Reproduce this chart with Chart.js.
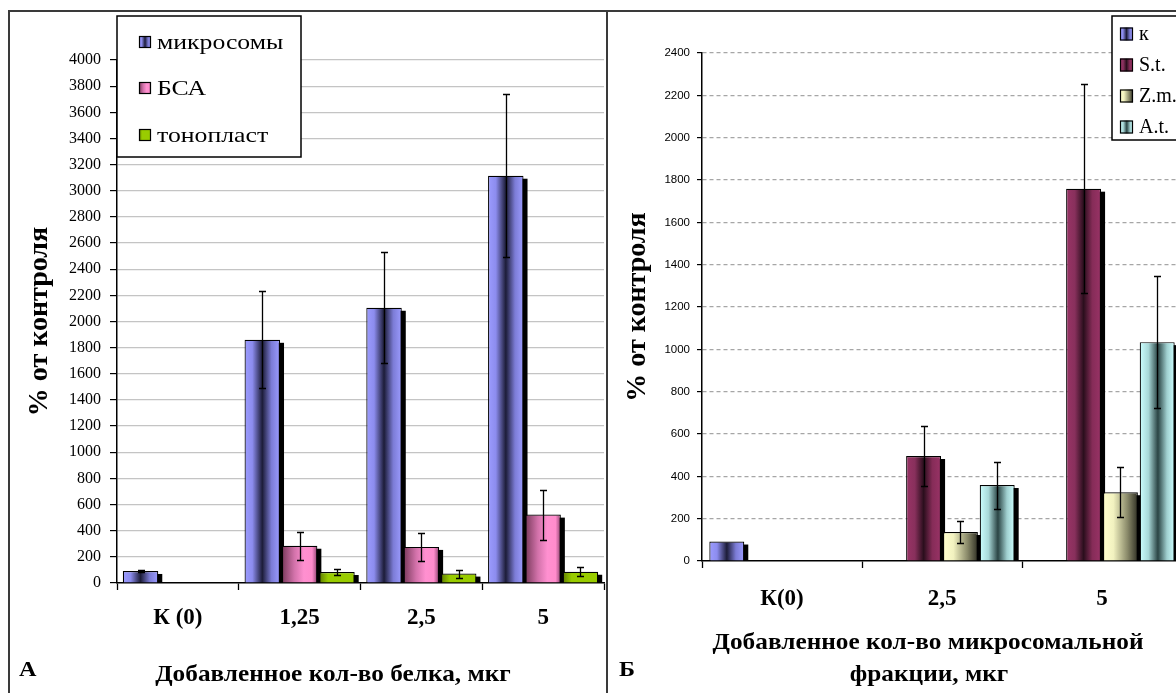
<!DOCTYPE html>
<html><head><meta charset="utf-8">
<script src="https://cdn.jsdelivr.net/npm/chart.js@4/dist/chart.umd.min.js"></script>
<style>
html,body{margin:0;padding:0;background:#fff;width:1176px;height:693px;overflow:hidden;}
#frame{position:absolute;left:8px;top:10px;width:1300px;height:800px;border-left:2px solid #3a3a3a;border-top:2px solid #3a3a3a;}
#sep{position:absolute;left:606px;top:10px;width:2px;height:700px;background:#3a3a3a;}
#ca{position:absolute;left:0;top:0;}
#cb{position:absolute;left:608px;top:0;}
</style></head><body>
<div id="frame"></div><div id="sep"></div>
<canvas id="ca" width="606" height="693"></canvas>
<canvas id="cb" width="650" height="693"></canvas>
<script>
// ---------- data: panel A ----------
const categoriesA = ['К (0)', '1,25', '2,5', '5'];
const seriesA = ['микросомы', 'БСА', 'тонопласт'];
const microsomes = [92, 1860, 2105, 3115];
const microsomesErr = [8, 370, 425, 625];
const bsa = [null, 285, 276, 523];
const bsaErr = [null, 107, 107, 192];
const tonoplast = [null, 84, 72, 86];
const tonoplastErr = [null, 25, 30, 34];
const yTicksA = [0, 200, 400, 600, 800, 1000, 1200, 1400, 1600, 1800, 2000, 2200, 2400, 2600, 2800, 3000, 3200, 3400, 3600, 3800, 4000];

// ---------- data: panel B ----------
const categoriesB = ['К(0)', '2,5', '5'];
const seriesB = ['к', 'S.t.', 'Z.m.', 'A.t.'];
const kControl = [92, null, null];
const kControlErr = [null, null, null];
const st = [null, 496, 1759];
const stErr = [null, 140, 494];
const zm = [null, 137, 325];
const zmErr = [null, 52, 118];
const at = [null, 359, 1034];
const atErr = [null, 111, 311];
const yTicksB = [0, 200, 400, 600, 800, 1000, 1200, 1400, 1600, 1800, 2000, 2200, 2400];

// ---------- styles ----------
const CAT_PCT = 0.92, BAR_PCT = 0.95;
const STOPS = {
  micro: [[0,'#9c9cff'],[0.22,'#8c8cee'],[0.5,'#1c1c38'],[0.76,'#7c7cd6'],[1,'#9c9cff']],
  bsa:   [[0,'#7a3a5c'],[0.35,'#d272aa'],[0.62,'#ff90d0'],[0.85,'#ff8ccc'],[1,'#8e4470']],
  tono:  [[0,'#5e7c00'],[0.25,'#99cc00'],[1,'#99cc00']],
  st:    [[0,'#993366'],[0.25,'#88305c'],[0.5,'#2a0e1c'],[0.75,'#862c58'],[1,'#993366']],
  zm:    [[0,'#ffffcc'],[0.3,'#f2f2c0'],[0.7,'#8a8a6a'],[1,'#303024']],
  at:    [[0,'#ccffff'],[0.25,'#a8d8d8'],[0.52,'#2a4444'],[0.78,'#a0d0d0'],[1,'#ccffff']]
};

function grad(ctx, left, w, stops) {
  const g = ctx.createLinearGradient(left, 0, left + w, 0);
  stops.forEach(([o, c]) => g.addColorStop(o, c));
  return g;
}
function barFill(stops) {
  return function (c) {
    const chart = c.chart;
    const xs = chart.scales && chart.scales.x;
    if (!xs || c.dataIndex === undefined || !isFinite(xs.width)) return stops[0][1];
    const n = chart.data.datasets.length;
    const cw = xs.width / chart.data.labels.length;
    const slot = cw * CAT_PCT / n;
    const left = xs.getPixelForValue(c.dataIndex) - cw * CAT_PCT / 2 + c.datasetIndex * slot + slot * (1 - BAR_PCT) / 2;
    return grad(chart.ctx, left, slot * BAR_PCT, stops);
  };
}

const barShadow = {
  id: 'barShadow',
  beforeDatasetsDraw(chart, args, o) {
    const {ctx, chartArea: a} = chart;
    ctx.save();
    ctx.beginPath(); ctx.rect(a.left, a.top, a.right - a.left, a.bottom - a.top); ctx.clip();
    ctx.fillStyle = '#000';
    chart.data.datasets.forEach((ds, di) => {
      chart.getDatasetMeta(di).data.forEach((el, i) => {
        if (ds.data[i] == null) return;
        const p = el.getProps(['x', 'y', 'base', 'width'], true);
        ctx.fillRect(p.x - p.width / 2 + o.dx, p.y + o.dy, p.width, p.base - p.y);
      });
    });
    ctx.restore();
  }
};

const errorBars = {
  id: 'errorBars',
  afterDatasetsDraw(chart, args, o) {
    const ctx = chart.ctx, ys = chart.scales.y;
    ctx.save();
    ctx.strokeStyle = '#000'; ctx.lineWidth = 1.3;
    chart.data.datasets.forEach((ds, di) => {
      if (!ds.errors) return;
      chart.getDatasetMeta(di).data.forEach((el, i) => {
        const v = ds.data[i], e = ds.errors[i];
        if (v == null || e == null) return;
        const x = Math.round(el.x) + 0.5;
        const y1 = Math.round(ys.getPixelForValue(v + e)) + 0.5;
        const y2 = Math.round(ys.getPixelForValue(v - e)) + 0.5;
        ctx.beginPath();
        ctx.moveTo(x, y1); ctx.lineTo(x, y2);
        ctx.moveTo(x - o.cap, y1); ctx.lineTo(x + o.cap, y1);
        ctx.moveTo(x - o.cap, y2); ctx.lineTo(x + o.cap, y2);
        ctx.stroke();
      });
    });
    ctx.restore();
  }
};

function stretchText(ctx, text, x, y, sx) {
  ctx.save();
  ctx.translate(x, y);
  ctx.scale(sx || 1, 1);
  ctx.fillText(text, 0, 0);
  ctx.restore();
}

const boxLegend = {
  id: 'boxLegend',
  afterDraw(chart, args, o) {
    const ctx = chart.ctx;
    ctx.save();
    ctx.fillStyle = '#fff'; ctx.fillRect(o.x, o.y, o.w, o.h);
    ctx.strokeStyle = '#000'; ctx.lineWidth = 1.5; ctx.strokeRect(o.x, o.y, o.w, o.h);
    ctx.font = o.font; ctx.textBaseline = 'middle'; ctx.textAlign = 'left';
    chart.data.datasets.forEach((ds, i) => {
      const cy = o.rows[i], s = o.size;
      ctx.fillStyle = grad(ctx, o.sx, s, ds.stops);
      ctx.fillRect(o.sx, cy - s / 2, s, s);
      ctx.strokeStyle = '#000'; ctx.lineWidth = 1.2;
      ctx.strokeRect(o.sx + 0.5, cy - s / 2 + 0.5, s - 1, s - 1);
      ctx.fillStyle = '#000';
      stretchText(ctx, ds.label, o.tx, cy + 1, o.stretch);
    });
    ctx.restore();
  }
};

const texts = {
  id: 'texts',
  afterDraw(chart, args, o) {
    const ctx = chart.ctx;
    ctx.save();
    ctx.fillStyle = '#000'; ctx.textBaseline = 'middle';
    o.items.forEach(t => {
      ctx.font = t.font; ctx.textAlign = t.align || 'center';
      stretchText(ctx, t.text, t.x, t.y, t.stretch);
    });
    ctx.restore();
  }
};

function ds(label, data, errors, stops) {
  return { label, data, errors, stops, backgroundColor: barFill(stops), borderColor: '#000', borderWidth: 1.2,
           categoryPercentage: CAT_PCT, barPercentage: BAR_PCT };
}

const SERIF = 'Liberation Serif';
const gridColor = (col) => (c) => (c.tick && c.tick.value === 0) ? 'rgba(0,0,0,0)' : col;
const plainNum = (v) => String(v);

// ---------- chart A ----------
new Chart(document.getElementById('ca'), {
  type: 'bar',
  data: {
    labels: categoriesA,
    datasets: [
      ds(seriesA[0], microsomes, microsomesErr, STOPS.micro),
      ds(seriesA[1], bsa, bsaErr, STOPS.bsa),
      ds(seriesA[2], tonoplast, tonoplastErr, STOPS.tono)
    ]
  },
  options: {
    responsive: false, animation: false, devicePixelRatio: 1,
    layout: { padding: { left: 0, top: 60, right: 2, bottom: 0 } },
    plugins: {
      legend: { display: false }, tooltip: { enabled: false },
      barShadow: { dx: 4, dy: 3 },
      errorBars: { cap: 3.5 },
      boxLegend: { x: 117, y: 16, w: 184, h: 141, sx: 139, size: 12, tx: 157, rows: [42, 88, 135], font: '22px "Liberation Serif"', stretch: 1.17 },
      texts: { items: [
        { text: 'Добавленное кол-во белка, мкг', x: 333, y: 675, font: 'bold 23px "Liberation Serif"', stretch: 1.1 },
        { text: 'А', x: 19, y: 670, align: 'left', font: 'bold 22px "Liberation Serif"', stretch: 1.1 }
      ] }
    },
    scales: {
      x: {
        grid: { drawOnChartArea: false, drawTicks: true, tickLength: 7, tickColor: '#000', color: '#000', tickWidth: 1.3 },
        border: { color: '#000', width: 1.5 },
        ticks: { font: { family: SERIF, size: 23, weight: 'bold' }, color: '#000', padding: 14 },
        afterFit(s) { s.height = 110; }
      },
      y: {
        min: yTicksA[0], max: yTicksA[yTicksA.length - 1],
        afterBuildTicks(s) { s.ticks = yTicksA.map(v => ({ value: v })); },
        grid: { color: gridColor('#c4c4c4'), lineWidth: 1.2, tickLength: 7, tickColor: '#000', tickWidth: 1.2 },
        border: { color: '#000', width: 1.5 },
        ticks: { autoSkip: false, font: { family: SERIF, size: 16 }, color: '#000', padding: 9, callback: plainNum },
        title: { display: true, text: '% от контроля', font: { family: SERIF, size: 28, weight: 'bold' }, color: '#000', padding: { top: 23 } },
        afterFit(s) { s.width = 117; }
      }
    }
  },
  plugins: [barShadow, errorBars, boxLegend, texts]
});

// ---------- chart B ----------
new Chart(document.getElementById('cb'), {
  type: 'bar',
  data: {
    labels: categoriesB,
    datasets: [
      ds(seriesB[0], kControl, kControlErr, STOPS.micro),
      ds(seriesB[1], st, stErr, STOPS.st),
      ds(seriesB[2], zm, zmErr, STOPS.zm),
      ds(seriesB[3], at, atErr, STOPS.at)
    ]
  },
  options: {
    responsive: false, animation: false, devicePixelRatio: 1,
    layout: { padding: { left: 0, top: 53, right: 76, bottom: 0 } },
    plugins: {
      legend: { display: false }, tooltip: { enabled: false },
      barShadow: { dx: 4, dy: 3 },
      errorBars: { cap: 3.5 },
      boxLegend: { x: 504, y: 16, w: 200, h: 124, sx: 512, size: 13, tx: 531, rows: [34, 65, 96, 127], font: '20px "Liberation Serif"', stretch: 1 },
      texts: { items: [
        { text: 'Добавленное кол-во микросомальной', x: 320, y: 643, font: 'bold 23px "Liberation Serif"', stretch: 1.1 },
        { text: 'фракции, мкг', x: 321, y: 675, font: 'bold 23px "Liberation Serif"', stretch: 1.1 },
        { text: 'Б', x: 11, y: 670, align: 'left', font: 'bold 22px "Liberation Serif"', stretch: 1.1 }
      ] }
    },
    scales: {
      x: {
        grid: { drawOnChartArea: false, drawTicks: true, tickLength: 7, tickColor: '#000', color: '#000', tickWidth: 1.3 },
        border: { color: '#000', width: 1.5 },
        ticks: { font: { family: SERIF, size: 23, weight: 'bold' }, color: '#000', padding: 17 },
        afterFit(s) { s.height = 132; }
      },
      y: {
        min: yTicksB[0], max: yTicksB[yTicksB.length - 1],
        afterBuildTicks(s) { s.ticks = yTicksB.map(v => ({ value: v })); },
        grid: { color: gridColor('#a6a6a6'), lineWidth: 1.2, tickLength: 5, tickColor: '#000', tickWidth: 1.2 },
        border: { color: '#000', width: 1.5, dash: [4, 3] },
        ticks: { autoSkip: false, font: { family: 'Liberation Sans', size: 11.5 }, color: '#000', padding: 7, callback: plainNum },
        title: { display: true, text: '% от контроля', font: { family: SERIF, size: 28, weight: 'bold' }, color: '#000', padding: { top: 13 } },
        afterFit(s) { s.width = 94; }
      }
    }
  },
  plugins: [barShadow, errorBars, boxLegend, texts]
});
</script></body></html>
